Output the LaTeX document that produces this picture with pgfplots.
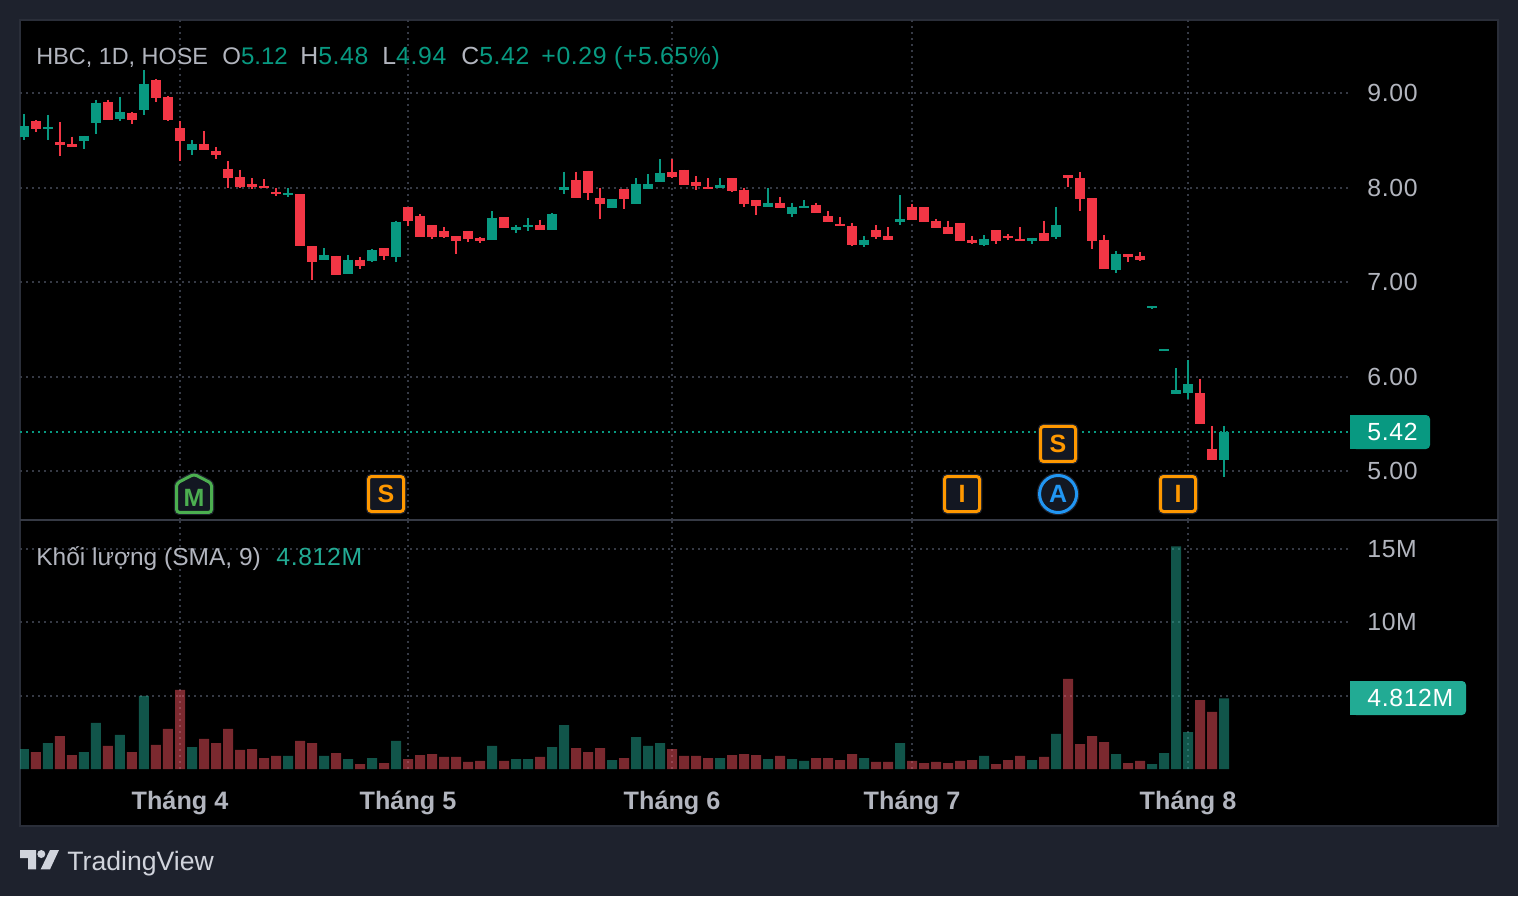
\documentclass[border=0pt]{standalone}
\usepackage{fontspec}
\setmainfont{Liberation Sans}
\newfontfamily\numfont[LetterSpace=2.5]{Liberation Sans}
\usepackage{pgfplots}
\usepackage{pgfplotstable}
\pgfplotsset{compat=1.18}
\usetikzlibrary{shapes.symbols}

\definecolor{bg}{HTML}{1E222D}
\definecolor{edge}{HTML}{2A2E39}
\definecolor{sep}{HTML}{363A45}
\definecolor{gridc}{HTML}{363A45}
\definecolor{txt}{HTML}{B2B5BE}
\definecolor{up}{HTML}{089981}
\definecolor{down}{HTML}{F23645}
\definecolor{volup}{HTML}{22AB94}
\definecolor{voldown}{HTML}{F7525F}
\definecolor{box}{HTML}{131722}
\definecolor{orangeb}{HTML}{FF9800}
\definecolor{blueb}{HTML}{2196F3}
\definecolor{greenb}{HTML}{4CAF50}
\definecolor{logo}{HTML}{D1D4DC}

\newcommand{\numstyle}{\fontsize{12.4}{14}\numfont}

% i = bar index, body top/bottom, wick high/low, volume in millions
\pgfplotstableread{
i top bot hi lo vol
1 8.70 8.62 8.71 8.59 1.16
3 8.48 8.45 8.69 8.33 2.25
4 8.46 8.43 8.54 8.43 0.95
7 8.90 8.72 8.93 8.71 1.57
9 8.79 8.72 8.80 8.67 1.16
11 9.14 8.95 9.15 8.90 1.64
12 8.96 8.71 8.97 8.70 2.73
13 8.63 8.49 8.70 8.28 5.39
15 8.46 8.40 8.60 8.40 2.05
16 8.39 8.34 8.43 8.30 1.77
17 8.20 8.10 8.28 8.00 2.73
18 8.11 8.01 8.19 8.00 1.30
19 8.04 8.01 8.10 7.99 1.36
20 8.02 8.00 8.09 8.00 0.75
21 7.95 7.93 8.00 7.91 0.89
23 7.93 7.38 7.93 7.38 1.91
24 7.38 7.21 7.38 7.02 1.77
26 7.28 7.08 7.28 7.08 1.09
28 7.24 7.17 7.27 7.14 0.34
30 7.36 7.28 7.36 7.23 0.41
32 7.80 7.65 7.80 7.59 0.68
33 7.70 7.48 7.72 7.48 0.95
34 7.60 7.48 7.60 7.46 1.02
35 7.54 7.48 7.58 7.47 0.82
36 7.49 7.44 7.49 7.30 0.82
37 7.54 7.46 7.54 7.43 0.48
38 7.47 7.44 7.48 7.41 0.55
40 7.69 7.57 7.69 7.57 0.55
43 7.60 7.55 7.66 7.55 0.82
46 8.08 7.89 8.17 7.89 1.43
47 8.18 7.94 8.18 7.87 1.16
48 7.89 7.83 8.00 7.67 1.43
50 7.99 7.88 7.99 7.77 0.75
54 8.16 8.11 8.30 8.10 1.36
55 8.19 8.03 8.19 8.03 0.89
56 8.06 8.02 8.12 7.98 0.89
57 8.01 7.99 8.10 7.99 0.75
59 8.10 7.96 8.10 7.95 0.95
60 7.98 7.83 8.00 7.80 1.02
61 7.87 7.81 7.87 7.71 0.95
63 7.84 7.78 7.90 7.78 0.89
66 7.82 7.73 7.84 7.73 0.75
67 7.70 7.64 7.75 7.64 0.75
68 7.62 7.59 7.69 7.59 0.61
69 7.59 7.39 7.63 7.38 1.02
71 7.55 7.48 7.60 7.46 0.48
72 7.49 7.45 7.58 7.45 0.48
74 7.80 7.66 7.83 7.66 0.55
75 7.79 7.64 7.79 7.64 0.41
76 7.65 7.57 7.67 7.57 0.48
77 7.58 7.51 7.65 7.51 0.41
78 7.63 7.44 7.63 7.44 0.55
79 7.45 7.41 7.49 7.40 0.61
81 7.55 7.44 7.55 7.40 0.34
82 7.49 7.47 7.51 7.45 0.61
83 7.46 7.44 7.58 7.44 0.89
85 7.52 7.44 7.65 7.44 0.82
87 8.13 8.10 8.13 8.01 6.14
88 8.10 7.88 8.16 7.75 1.70
89 7.89 7.44 7.89 7.35 2.25
90 7.45 7.14 7.50 7.14 1.84
92 7.30 7.27 7.30 7.21 0.41
93 7.28 7.24 7.32 7.22 0.55
98 5.83 5.50 5.98 5.50 4.70
99 5.24 5.12 5.48 5.12 3.89
}\reddata

\pgfplotstableread{
i top bot hi lo vol
0 8.65 8.54 8.78 8.50 1.36
2 8.64 8.62 8.77 8.50 1.77
5 8.55 8.49 8.55 8.41 1.16
6 8.89 8.68 8.93 8.57 3.14
8 8.80 8.73 8.96 8.70 2.32
10 9.10 8.82 9.24 8.77 4.98
14 8.46 8.40 8.50 8.34 1.50
22 7.94 7.92 8.00 7.90 0.89
25 7.29 7.23 7.36 7.23 0.89
27 7.24 7.09 7.29 7.09 0.68
29 7.34 7.22 7.35 7.21 0.75
31 7.64 7.27 7.65 7.21 1.91
39 7.68 7.45 7.75 7.45 1.57
41 7.58 7.55 7.60 7.52 0.68
42 7.60 7.58 7.68 7.54 0.68
44 7.72 7.55 7.73 7.55 1.50
45 8.01 7.98 8.17 7.93 3.00
49 7.88 7.78 7.88 7.78 0.61
51 8.04 7.83 8.10 7.83 2.18
52 8.04 7.99 8.14 7.99 1.57
53 8.15 8.06 8.30 8.06 1.77
58 8.03 8.00 8.10 8.00 0.75
62 7.84 7.79 8.00 7.79 0.68
64 7.80 7.72 7.84 7.69 0.68
65 7.81 7.78 7.87 7.78 0.55
70 7.45 7.39 7.49 7.37 0.75
73 7.67 7.64 7.92 7.60 1.77
80 7.46 7.39 7.50 7.38 0.89
84 7.47 7.44 7.47 7.40 0.61
86 7.60 7.48 7.80 7.46 2.39
91 7.30 7.13 7.33 7.10 1.02
94 6.745 6.725 6.75 6.72 0.34
95 6.29 6.27 6.29 6.27 1.09
96 5.86 5.82 6.09 5.82 15.18
97 5.92 5.83 6.18 5.77 2.52
100 5.42 5.12 5.48 4.94 4.812
}\greendata

\pgfplotsset{
  every axis/.append style={
    scale only axis, width=665pt,
    xmin=-0.333, xmax=110.5,
    axis line style={draw=none},
    major tick length=0pt,
    tick style={draw=none},
    xtick={13,32,54,74,97},
    xmajorgrids, ymajorgrids,
    major grid style={gridc, line width=1pt, dash pattern=on 1pt off 2pt},
    yticklabel pos=right,
    tick label style={font=\numstyle, text=txt},
    y tick label style={inner sep=0pt, anchor=west, xshift=8.5pt},
  },
  wicks/.style={draw=none, mark=none, forget plot,
    error bars/.cd, y dir=minus, y explicit, error mark=none,
    error bar style={draw=#1, line width=1pt}},
  bodies/.style={draw=none, mark=none, forget plot,
    error bars/.cd, y dir=minus, y explicit, error mark=none,
    error bar style={draw=#1, line width=5pt}},
  evt/.style={only marks, mark=none, forget plot,
    point meta=explicit symbolic, nodes near coords,
    every node near coord/.style={anchor=center, inner sep=0pt, text=#1, fill=box, draw=#1,
      line width=1.5pt, font=\fontsize{12.5}{14}\selectfont\bfseries,
      preaction={draw=bg, line width=2.75pt}}},
}

\begin{document}
\begin{tikzpicture}[x=0.5pt,y=-0.5pt]
\useasboundingbox (0,0) rectangle (1518,896);
\fill[bg] (0,0) rectangle (1518,896);
\fill[black] (20,20) rectangle (1498,826);
\draw[edge, line width=1pt] (20,20) rectangle (1498,826);

% price pane
\begin{axis}[
  at={(10pt,-260pt)}, anchor=south west, height=250pt,
  ymin=4.486, ymax=9.772,
  ytick={5,6,7,8,9},
  xticklabels={},
  /pgf/number format/assume math mode=true,
  /pgf/number format/fixed, /pgf/number format/fixed zerofill, /pgf/number format/precision=2,
]
\addplot[up, line width=1pt, dash pattern=on 1pt off 2pt, forget plot] coordinates {(-0.333,5.42) (110.5,5.42)};
\addplot[wicks=down] table[x=i, y=hi, y error minus expr=\thisrow{hi}-\thisrow{lo}] {\reddata};
\addplot[bodies=down] table[x=i, y=top, y error minus expr=\thisrow{top}-\thisrow{bot}] {\reddata};
\addplot[wicks=up] table[x=i, y=hi, y error minus expr=\thisrow{hi}-\thisrow{lo}] {\greendata};
\addplot[bodies=up] table[x=i, y=top, y error minus expr=\thisrow{top}-\thisrow{bot}] {\greendata};
% event markers
\addplot[evt=orangeb, every node near coord/.append style={rectangle, rounded corners=1.5pt, minimum size=17.5pt}]
  coordinates {(30.17,4.761)[S] (86.17,5.29)[S] (78.17,4.761)[I] (96.17,4.761)[I]};
\addplot[evt=blueb, every node near coord/.append style={circle, minimum size=18.5pt}]
  coordinates {(86.17,4.761)[A]};
\addplot[evt=greenb, every node near coord/.append style={signal, signal to=north, signal pointer angle=125,
    rounded corners=1.5pt, minimum width=17.5pt, minimum height=17.25pt}]
  coordinates {(14.17,4.72)[M]};
\end{axis}

% volume pane
\begin{axis}[
  at={(10pt,-384.5pt)}, anchor=south west, height=124.5pt,
  ymin=0, ymax=16.97,
  ytick={5,10,15},
  yticklabels={,10M,15M},
  xticklabels={Tháng 4,Tháng 5,Tháng 6,Tháng 7,Tháng 8},
  x tick label style={font=\fontsize{12.6}{14}\selectfont\bfseries, yshift=-7.5pt},
  ybar, bar width=5pt, bar shift=0pt,
]
\addplot[draw=none, fill=voldown, fill opacity=0.5] table[x=i, y=vol] {\reddata};
\addplot[draw=none, fill=volup, fill opacity=0.5] table[x=i, y=vol] {\greendata};
\end{axis}

\draw[sep, line width=1pt] (20,520) -- (1498,520);

% header texts
\begin{scope}[every node/.style={anchor=base west, inner sep=0pt, font=\fontsize{12}{14}\selectfont}]
\node[text=txt, font=\fontsize{11.7}{14}\selectfont] at (36,64) {HBC, 1D, HOSE};
\node at (222,64) {\textcolor{txt}{O}\textcolor{up}{5.12}};
\node[font=\numstyle] at (300,64) {\textcolor{txt}{H}\textcolor{up}{5.48}};
\node[font=\numstyle] at (382,64) {\textcolor{txt}{L}\textcolor{up}{4.94}};
\node[font=\numstyle] at (461,64) {\textcolor{txt}{C}\textcolor{up}{5.42}};
\node[text=up, font=\numstyle] at (541,64) {+0.29 (+5.65\%)};
\node[text=txt, font=\fontsize{12.25}{14}\selectfont] at (36,565) {Khối lượng (SMA, 9)};
\node[text=volup, font=\numstyle] at (276,565) {4.812M};
\end{scope}

% last value tags
\fill[up, rounded corners=2pt] (1352,415) rectangle (1430,449);
\fill[up] (1350,415) rectangle (1370,449);
\node[anchor=base west, inner sep=0pt, text=white, font=\numstyle] at (1367,440.5) {5.42};
\fill[volup, rounded corners=2pt] (1352,681) rectangle (1466,715);
\fill[volup] (1350,681) rectangle (1370,715);
\node[anchor=base west, inner sep=0pt, text=white, font=\numstyle] at (1367,706.5) {4.812M};

% logo
\fill[logo] (20,850) -- (36,850) -- (36,869.3) -- (28,869.3) -- (28,858) -- (20,858) -- cycle;
\fill[logo] (41.3,854) circle (4);
\fill[logo] (59,850) -- (50,850) -- (40.7,869.3) -- (50,869.3) -- cycle;
\node[anchor=base west, inner sep=0pt, text=logo, font=\fontsize{13.3}{15}\selectfont] at (67,870) {TradingView};
\end{tikzpicture}
\end{document}
